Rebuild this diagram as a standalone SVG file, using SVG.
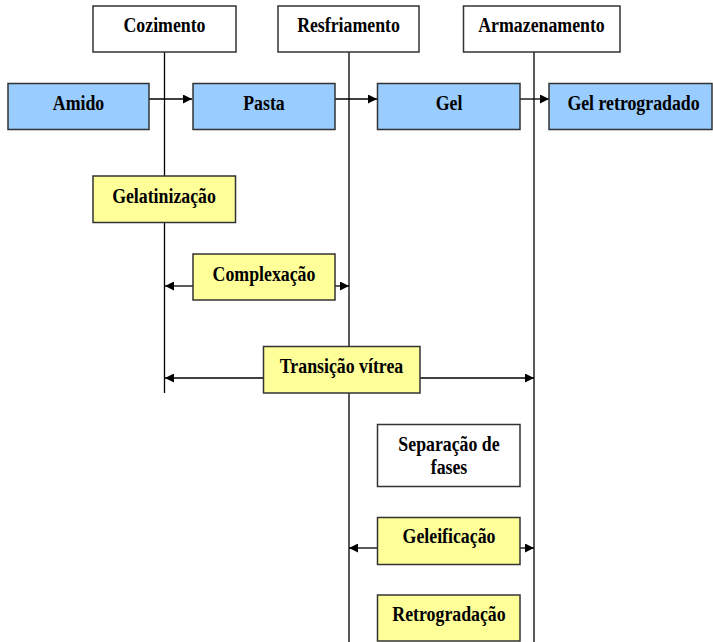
<svg xmlns="http://www.w3.org/2000/svg" width="713" height="642" viewBox="0 0 713 642">
<defs>
<style>
.box{stroke:#333;stroke-width:1.5}
.w{fill:#fff}
.b{fill:#99ccff}
.y{fill:#ffff99}
.t{font-family:"Liberation Serif","Times New Roman",serif;font-weight:bold;font-size:20px;fill:#000;text-anchor:middle}
.ln{stroke:#000;stroke-width:1.3;fill:none}
</style>
<marker id="ah" viewBox="0 0 10 10" refX="10" refY="5" markerWidth="9" markerHeight="9" markerUnits="userSpaceOnUse" orient="auto">
<path d="M0,0 L10,5 L0,10 z" fill="#000"/>
</marker>
</defs>
<rect width="713" height="642" fill="#fff"/>
<g id="connectors">
<line class="ln" x1="164.5" y1="52" x2="164.5" y2="393"/>
<line class="ln" x1="349" y1="52" x2="349" y2="642"/>
<line class="ln" x1="534" y1="52" x2="534" y2="642"/>
<line class="ln" x1="149" y1="99" x2="192" y2="99" marker-end="url(#ah)"/>
<line class="ln" x1="335" y1="99" x2="377" y2="99" marker-end="url(#ah)"/>
<line class="ln" x1="520" y1="99" x2="549" y2="99" marker-end="url(#ah)"/>
<line class="ln" x1="193" y1="286" x2="165" y2="286" marker-end="url(#ah)"/>
<line class="ln" x1="335" y1="286" x2="349" y2="286" marker-end="url(#ah)"/>
<line class="ln" x1="263" y1="378" x2="165" y2="378" marker-end="url(#ah)"/>
<line class="ln" x1="420" y1="378" x2="534" y2="378" marker-end="url(#ah)"/>
<line class="ln" x1="378" y1="548" x2="349" y2="548" marker-end="url(#ah)"/>
<line class="ln" x1="520" y1="548" x2="534" y2="548" marker-end="url(#ah)"/>
</g>
<g id="cozimento"><rect class="box w" x="93" y="6" width="143" height="46"/><text class="t" transform="translate(164.5,32) scale(0.89,1)">Cozimento</text></g>
<g id="resfriamento"><rect class="box w" x="278" y="6" width="141" height="46"/><text class="t" transform="translate(348.5,32) scale(0.89,1)">Resfriamento</text></g>
<g id="armazenamento"><rect class="box w" x="463.5" y="6" width="156.5" height="46"/><text class="t" transform="translate(541.5,32) scale(0.89,1)">Armazenamento</text></g>
<g id="amido"><rect class="box b" x="8" y="83.5" width="141" height="46"/><text class="t" transform="translate(78.5,110) scale(0.89,1)">Amido</text></g>
<g id="pasta"><rect class="box b" x="193" y="83.5" width="142" height="46"/><text class="t" transform="translate(264,110) scale(0.89,1)">Pasta</text></g>
<g id="gel"><rect class="box b" x="377.5" y="83.5" width="142.5" height="46"/><text class="t" transform="translate(449,110) scale(0.89,1)">Gel</text></g>
<g id="gel-retrogradado"><rect class="box b" x="549" y="83.5" width="163" height="46"/><text class="t" transform="translate(633.5,110) scale(0.89,1)">Gel retrogradado</text></g>
<g id="gelatinizacao"><rect class="box y" x="93" y="176" width="142.5" height="46.5"/><text class="t" transform="translate(164,202.5) scale(0.89,1)">Gelatinização</text></g>
<g id="complexacao"><rect class="box y" x="193" y="254" width="142" height="46"/><text class="t" transform="translate(264,280.5) scale(0.89,1)">Complexação</text></g>
<g id="transicao-vitrea"><rect class="box y" x="263.5" y="346.5" width="156.5" height="46.5"/><text class="t" transform="translate(341.5,373) scale(0.89,1)">Transição vítrea</text></g>
<g id="separacao-de-fases"><rect class="box w" x="377.5" y="424.5" width="142.5" height="62"/><text class="t" transform="translate(449,450.5) scale(0.89,1)">Separação de</text><text class="t" transform="translate(449,473.5) scale(0.89,1)">fases</text></g>
<g id="geleificacao"><rect class="box y" x="377.5" y="517.5" width="142.5" height="47"/><text class="t" transform="translate(449,543) scale(0.89,1)">Geleificação</text></g>
<g id="retrogradacao"><rect class="box y" x="377.5" y="595" width="142.5" height="46"/><text class="t" transform="translate(449,621) scale(0.89,1)">Retrogradação</text></g>
</svg>
